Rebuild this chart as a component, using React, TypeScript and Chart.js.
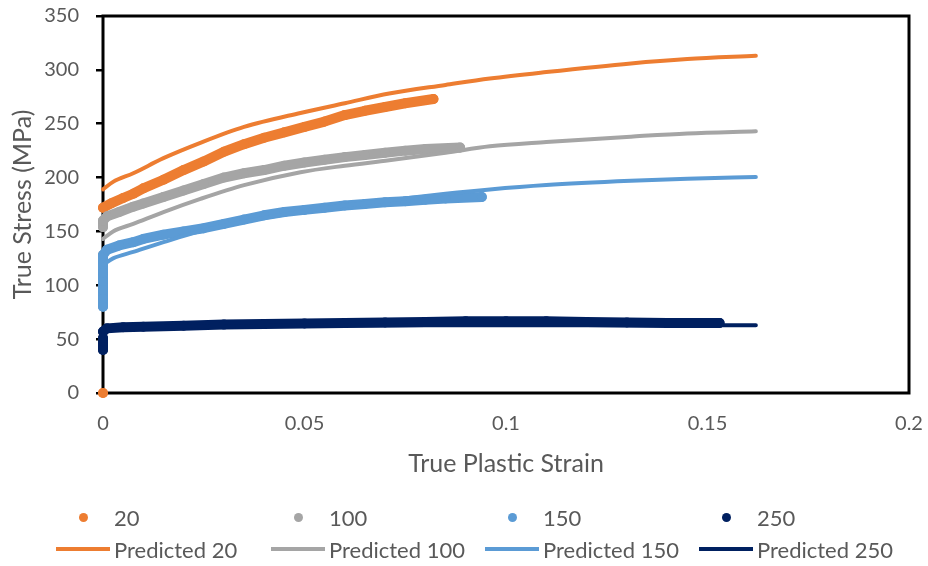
import React, { useEffect, useRef } from "react";
import { Chart, registerables } from "chart.js";

Chart.register(...registerables);

type Pt = [number, number | null];

// ---------- data ----------
const seriesNames = ["20", "100", "150", "250"];
const predictedNames = ["Predicted 20", "Predicted 100", "Predicted 150", "Predicted 250"];
const seriesColors = ["#ED7D31", "#A5A5A5", "#5B9BD5", "#002060"];

const xTicks = [0, 0.05, 0.1, 0.15, 0.2];
const yTicks = [0, 50, 100, 150, 200, 250, 300, 350];

const exp20: Pt[] = [
  [0, 0], [0, null],
  [0, 92], [0, 104], [0, 116], [0, 126], [0, null],
  [0, 172], [0.002, 176], [0.005, 181], [0.0075, 185], [0.01, 190], [0.015, 198],
  [0.02, 207], [0.025, 215], [0.03, 224], [0.035, 231], [0.04, 237], [0.045, 242],
  [0.05, 247], [0.055, 252], [0.06, 258], [0.065, 262], [0.07, 265.5], [0.075, 269],
  [0.082, 273],
];

const exp100: Pt[] = [
  [0, 95], [0, 105], [0, 118], [0, 128], [0, null],
  [0, 154], [0, 160], [0.001, 164], [0.004, 168], [0.0075, 173], [0.01, 176],
  [0.015, 182], [0.02, 188], [0.025, 194], [0.03, 200], [0.035, 204], [0.04, 207],
  [0.045, 211], [0.05, 214], [0.055, 216.5], [0.06, 219], [0.065, 221], [0.07, 223],
  [0.075, 225], [0.08, 226.5], [0.0886, 228],
];

const exp150: Pt[] = [
  [0, 80], [0, 88], [0, 96], [0, 104], [0, 112], [0, 120], [0, 128],
  [0.001, 133], [0.004, 137], [0.0075, 140], [0.01, 143], [0.015, 147], [0.02, 150],
  [0.025, 153], [0.03, 157], [0.035, 161], [0.04, 165], [0.045, 168], [0.05, 170],
  [0.055, 172], [0.06, 174], [0.065, 175.5], [0.07, 177], [0.075, 178], [0.08, 179.5],
  [0.085, 180.5], [0.094, 182],
];

const exp250: Pt[] = [
  [0, 40], [0, 44], [0, 48], [0, 51], [0, null],
  [0, 57], [0.001, 60], [0.005, 61], [0.01, 61.5], [0.02, 62.5], [0.03, 63.5],
  [0.04, 64], [0.05, 64.5], [0.06, 65], [0.07, 65.5], [0.08, 66], [0.09, 66.5],
  [0.1, 66.5], [0.11, 66.5], [0.12, 66], [0.13, 65.5], [0.14, 65], [0.153, 65],
];

const pred20: Pt[] = [
  [0, 189], [0.0025, 196], [0.0075, 204], [0.015, 218], [0.024, 232], [0.035, 247],
  [0.049, 260], [0.06, 269], [0.071, 278], [0.085, 286], [0.096, 292], [0.11, 298],
  [0.131, 306], [0.145, 310], [0.162, 313],
];

const pred100: Pt[] = [
  [0, 143], [0.0025, 150], [0.0075, 157], [0.015, 168], [0.024, 180], [0.035, 193],
  [0.049, 205], [0.06, 211], [0.071, 216], [0.085, 223], [0.096, 229], [0.11, 233],
  [0.131, 238], [0.145, 241], [0.162, 243],
];

const pred150: Pt[] = [
  [0, 119], [0.0025, 125], [0.0075, 131], [0.015, 140], [0.024, 150], [0.035, 159],
  [0.049, 168], [0.06, 174], [0.071, 179], [0.085, 185], [0.096, 189], [0.11, 193],
  [0.131, 197], [0.145, 199], [0.162, 200.5],
];

const pred250: Pt[] = [
  [0, 57], [0.0025, 60], [0.0075, 61], [0.015, 61.5], [0.03, 62], [0.05, 62.5],
  [0.08, 63], [0.11, 63], [0.14, 63], [0.162, 63],
];

const expData = [exp20, exp100, exp150, exp250];
const predData = [pred20, pred100, pred150, pred250];

// ---------- styling ----------
const FONT = "Lato, 'Liberation Sans', sans-serif";
const TEXT_COLOR = "#595959";
const legendCols = [56, 271, 485, 699];
const legendRowY = [517, 549];

const toXY = (arr: Pt[]) => arr.map(([x, y]) => ({ x, y }));

const framePlugin = {
  id: "frame",
  beforeDatasetsDraw(chart: any) {
    const { ctx, chartArea } = chart;
    const { left, top, right, bottom } = chartArea;
    ctx.save();
    ctx.strokeStyle = "#000";
    ctx.lineWidth = 3;
    ctx.strokeRect(left, top, right - left, bottom - top);
    ctx.restore();
  },
};

const zeroPadding = (s: any) => {
  s.paddingTop = 0;
  s.paddingBottom = 0;
  s.paddingLeft = 0;
  s.paddingRight = 0;
};

export default function App() {
  const canvasRef = useRef<HTMLCanvasElement | null>(null);

  useEffect(() => {
    if (!canvasRef.current) return;
    const datasets: any[] = [];
    expData.forEach((d, i) => {
      datasets.push({
        label: seriesNames[i],
        data: toXY(d),
        showLine: true,
        borderColor: seriesColors[i],
        backgroundColor: seriesColors[i],
        borderWidth: 10,
        borderCapStyle: "round",
        borderJoinStyle: "round",
        pointRadius: 5,
        pointBorderWidth: 0,
        pointHoverRadius: 5,
        spanGaps: false,
        clip: false,
        order: 20 - i,
      });
    });
    predData.forEach((d, i) => {
      datasets.push({
        label: predictedNames[i],
        data: toXY(d),
        showLine: true,
        borderColor: seriesColors[i],
        backgroundColor: seriesColors[i],
        borderWidth: 4,
        borderCapStyle: "round",
        pointRadius: 0,
        cubicInterpolationMode: "monotone",
        clip: false,
        order: 10 - i,
      });
    });

    const chart = new Chart(canvasRef.current, {
      type: "scatter",
      data: { datasets },
      plugins: [framePlugin],
      options: {
        animation: false,
        responsive: false,
        maintainAspectRatio: false,
        events: [],
        layout: { padding: { top: 16, right: 19, left: 0, bottom: 0 } },
        plugins: {
          legend: { display: false },
          tooltip: { enabled: false },
        },
        scales: {
          x: {
            type: "linear",
            min: 0,
            max: 0.2,
            afterBuildTicks: (s: any) => {
              s.ticks = xTicks.map((v) => ({ value: v }));
            },
            afterFit: (s: any) => {
              s.height = 173;
              zeroPadding(s);
            },
            grid: { display: false, drawTicks: false },
            border: { display: false },
            ticks: {
              padding: 19,
              color: TEXT_COLOR,
              font: { family: FONT, size: 20 },
              maxRotation: 0,
              callback: (v: any) => String(v),
            },
            title: {
              display: true,
              text: "True Plastic Strain",
              color: TEXT_COLOR,
              font: { family: FONT, size: 25 },
              padding: { top: 0, bottom: 87 },
            },
          },
          y: {
            type: "linear",
            min: 0,
            max: 350,
            afterBuildTicks: (s: any) => {
              s.ticks = yTicks.map((v) => ({ value: v }));
            },
            afterFit: (s: any) => {
              s.width = 103;
              zeroPadding(s);
            },
            grid: {
              display: true,
              drawOnChartArea: false,
              drawTicks: true,
              tickLength: 7,
              color: "#000",
              lineWidth: 2.5,
            },
            border: { display: false },
            ticks: {
              padding: 17,
              color: TEXT_COLOR,
              font: { family: FONT, size: 20 },
              callback: (v: any) => String(v),
            },
            title: {
              display: true,
              text: "True Stress (MPa)",
              color: TEXT_COLOR,
              font: { family: FONT, size: 25 },
              padding: { top: 8, bottom: 0 },
            },
          },
        },
      } as any,
    });
    return () => chart.destroy();
  }, []);

  const legendItems: { name: string; color: string; kind: "dot" | "line"; col: number; row: number }[] = [];
  seriesNames.forEach((n, i) => legendItems.push({ name: n, color: seriesColors[i], kind: "dot", col: i, row: 0 }));
  predictedNames.forEach((n, i) => legendItems.push({ name: n, color: seriesColors[i], kind: "line", col: i, row: 1 }));

  return (
    <div style={{ position: "absolute", left: 0, top: 0, width: 928, height: 566, background: "#fff", overflow: "hidden" }}>
      <canvas ref={canvasRef} width={928} height={566} style={{ display: "block", width: 928, height: 566 }} />
      {legendItems.map((it) => (
        <div
          key={it.name}
          style={{
            position: "absolute",
            left: legendCols[it.col],
            top: legendRowY[it.row] - 15,
            height: 30,
            display: "flex",
            alignItems: "center",
            fontFamily: FONT,
            fontSize: 22,
            color: TEXT_COLOR,
            whiteSpace: "nowrap",
          }}
        >
          <span style={{ width: 54, height: 30, display: "flex", alignItems: "center", justifyContent: "center" }}>
            {it.kind === "dot" ? (
              <span style={{ width: 9, height: 9, borderRadius: "50%", background: it.color, display: "block" }} />
            ) : (
              <span style={{ width: 54, height: 4, background: it.color, display: "block" }} />
            )}
          </span>
          <span style={{ marginLeft: 4 }}>{it.name}</span>
        </div>
      ))}
    </div>
  );
}
